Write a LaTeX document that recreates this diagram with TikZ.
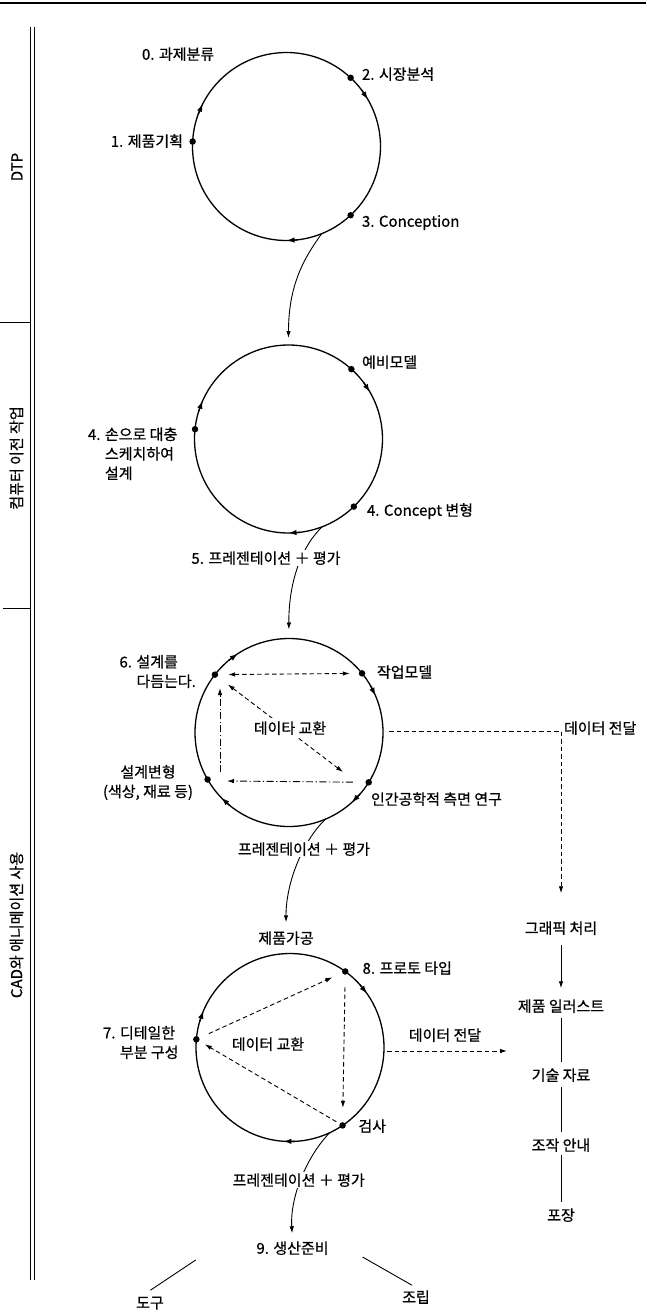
\documentclass[tikz,border=0pt]{standalone}
\usepackage{fontspec}
\setmainfont{Noto Sans CJK KR}[FakeBold=0.7]
\usetikzlibrary{arrows.meta,calc}
\newcommand\cwmark[2]{\draw[mk] ($(#1.center)+(#2+4:94pt)$) -- ($(#1.center)+(#2-3:94pt)$);}
\begin{document}
\begin{tikzpicture}[x=1pt,y=1pt,
  every node/.style={font=\fontsize{15}{19.5}\selectfont, inner sep=0pt, outer sep=0pt},
  lbl/.style={text height=12.5pt, text depth=1pt},
  ring/.style={circle, draw, line width=1.3pt, minimum size=188pt, inner sep=0pt},
  dot/.style={circle, fill, minimum size=6.5pt, inner sep=0pt},
  tipa/.style={-{Latex[length=7pt,width=4.5pt]}},
  tipb/.style={{Latex[length=7pt,width=4.5pt]}-{Latex[length=7pt,width=4.5pt]}},
  conn/.style={line width=0.9pt, tipa},
  dsh/.style={line width=0.9pt, dash pattern=on 4.5pt off 3pt},
  dshdot/.style={line width=0.9pt, dash pattern=on 7pt off 2.5pt on 1.2pt off 2.5pt},
  mk/.style={line width=1.3pt, -{Latex[length=8pt,width=5.5pt]}},
  plain/.style={line width=0.9pt},
  wlbl/.style={lbl, fill=white, inner sep=1.5pt},
]
\useasboundingbox (0,0) rectangle (646,-1312);

% frame
\draw[line width=1.2pt] (0,-3) -- (646,-3);
\draw[line width=0.9pt] (30.5,-27) -- (30.5,-1280);
\draw[line width=0.9pt] (34,-27) -- (34,-1280);
\draw[plain] (0,-322) -- (30.5,-322);
\draw[plain] (3,-608) -- (30.5,-608);
\node[rotate=90] (sec1) at (17,-167) {DTP};
\node[rotate=90] (sec2) at (16.5,-458) {컴퓨터 이전 작업};
\node[rotate=90] (sec3) at (16.5,-925) {CAD와 애니메이션 사용};

% circles
\node[ring] (C1) at (286.5,-146.5) {};
\node[ring] (C2) at (288.5,-439) {};
\node[ring] (C3) at (289,-732.5) {};
\node[ring] (C4) at (290,-1047.5) {};

% dots
\node[dot] (p2) at (C1.47) {};
\node[dot] (p1) at (C1.177) {};
\node[dot] (p3) at (C1.-47) {};
\node[dot] (q1) at (C2.48) {};
\node[dot] (q2) at (C2.174) {};
\node[dot] (q3) at (C2.-46) {};
\node[dot] (r1) at (C3.142) {};
\node[dot] (r2) at (C3.39) {};
\node[dot] (r3) at (C3.210) {};
\node[dot] (r4) at (C3.-32) {};
\node[dot] (s1) at (C4.54) {};
\node[dot] (s2) at (C4.175) {};
\node[dot] (s3) at (C4.-56) {};

% direction marks
\cwmark{C1}{33} \cwmark{C1}{156} \cwmark{C1}{-87}
\cwmark{C2}{33} \cwmark{C2}{159} \cwmark{C2}{-87}
\cwmark{C3}{126} \cwmark{C3}{26} \cwmark{C3}{-45} \cwmark{C3}{227}
\cwmark{C4}{38} \cwmark{C4}{160} \cwmark{C4}{-91}

% circle 1 labels
\node[lbl, anchor=west] (t0) at (142,-54) {0. 과제분류};
\node[lbl, anchor=west] (t2) at (362,-74) {2. 시장분석};
\node[lbl, anchor=east] (t1) at (183,-141) {1. 제품기획};
\node[lbl, anchor=west] (t3) at (362,-221) {3. Conception};

% circle 2 labels
\node[lbl, anchor=west] (u1) at (362,-362) {예비모델};
\node[anchor=north west, align=left] (u2) at (88,-427.5) {4. 손으로 대충\\\phantom{4. }스케치하여\\\phantom{4. }설계};
\node[lbl, anchor=west] (u3) at (367,-510) {4. Concept 변형};

% connectors between circles
\draw[conn, shorten >=7pt] (C1.-68) .. controls (304,-258) and (288.5,-285) .. (C2.north);
\draw[conn, shorten >=9pt] (C2.-69) .. controls (300,-548) and (288.5,-585) .. (C3.north);
\node[wlbl] (pe1) at (266,-558) {5. 프레젠테이션 ＋ 평가};

% circle 3
\node[anchor=north west, align=left] (v1) at (119.5,-655) {6. 설계를\\\phantom{6. }다듬는다.};
\node[lbl, anchor=west] (v2) at (377,-672) {작업모델};
\node[anchor=north, align=center] (v3) at (148,-765) {설계변형\\(색상, 재료 등)};
\node[lbl, anchor=west] (v4) at (371,-799) {인간공학적 측면 연구};
\draw[dsh, tipb, shorten <=10pt, shorten >=9pt] (r1) -- (r2);
\coordinate (dgB) at (343,-772);
\draw[dsh, tipb, shorten <=13pt] (r1) -- (dgB);
\node[wlbl, inner sep=3pt] (dx1) at (290,-728) {데이타 교환};
\coordinate (Lv1) at (220,-772);
\coordinate (Lv2) at (220,-688);
\draw[dshdot, tipa] (Lv1) -- (Lv2);
\coordinate (Lh2) at (227,-781);
\draw[dshdot, tipa, shorten <=12.7pt] (r4) -- (Lh2);

% right column
\node[lbl] (gfx) at (561,-928) {그래픽 처리};
\draw[dsh, tipa, shorten >=28pt] ($(C3.east)+(6pt,1.5pt)$) -| (gfx.north);
\node[lbl, anchor=west] (dt1) at (564,-728) {데이터 전달};
\node[lbl] (ill) at (561,-1006) {제품 일러스트};
\node[lbl] (tech) at (561,-1075) {기술 자료};
\node[lbl] (oper) at (561,-1145) {조작 안내};
\node[lbl] (pack) at (561,-1215) {포장};
\draw[conn, shorten <=10pt, shorten >=11pt] (gfx) -- (ill);
\draw[plain, shorten <=5pt, shorten >=6pt] (ill) -- (tech);
\draw[plain, shorten <=5pt, shorten >=6pt] (tech) -- (oper);
\draw[plain, shorten <=3pt, shorten >=6pt] (oper) -- (pack);

% circle 3 -> circle 4
\node[lbl] (prod) at (286,-938) {제품가공};
\draw[conn, shorten >=9pt] (C3.-67) .. controls (305,-838) and (286,-880) .. (prod.north);
\node[wlbl] (pe2) at (304,-849) {프레젠테이션 ＋ 평가};

% circle 4
\node[lbl, anchor=west] (w1) at (362.6,-968) {8. 프로토 타입};
\node[anchor=north west, align=left] (w2) at (103,-1026) {7. 디테일한\\\phantom{7. }부분 구성};
\node[lbl, anchor=west] (w3) at (358.5,-1126) {검사};
\draw[dsh, tipa, shorten <=10.4pt, shorten >=11pt] (s2) -- (s1);
\draw[dsh, tipa, shorten <=12.4pt, shorten >=14.4pt] (s1) -- (s3);
\draw[dsh, tipa, shorten <=4pt, shorten >=6.6pt] (s3) -- (s2);
\node[lbl] (dx2) at (268,-1044) {데이터 교환};
\coordinate (dd4) at (507,-1051);
\draw[dsh, tipa] ($(C4.east)+(3pt,-3.5pt)$) -- (dd4);
\node[lbl] (dt2) at (445,-1035) {데이터 전달};

% bottom
\node[lbl] (prep) at (292.5,-1248) {9. 생산준비};
\draw[conn, shorten >=8pt] (C4.-65) .. controls (308,-1155) and (290,-1195) .. (prep.north);
\node[wlbl] (pe3) at (298.7,-1180) {프레젠테이션 ＋ 평가};
\node[lbl] (tool) at (150,-1302.5) {도구};
\node[lbl] (asm) at (416,-1297) {조립};
\coordinate (tl) at (195.7,-1260);
\coordinate (al) at (362.6,-1257);
\draw[plain] (tl) -- ($(tool.north)+(0.4,5.5)$);
\draw[plain] (al) -- ($(asm.north)+(-4,5)$);
\end{tikzpicture}
\end{document}
